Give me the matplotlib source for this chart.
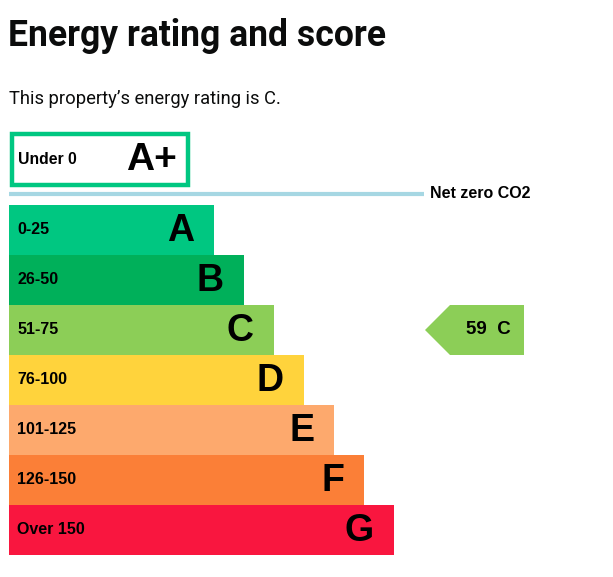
import matplotlib
matplotlib.use("Agg")
from matplotlib import pyplot as plt
from matplotlib.patches import Polygon, Rectangle

# data
bands = ["A", "B", "C", "D", "E", "F", "G"]
ranges = ["0-25", "26-50", "51-75", "76-100", "101-125", "126-150", "Over 150"]
colors = ["#00c781", "#00b05a", "#8cce57", "#ffd33c", "#fda96d", "#fb7f37", "#f9163f"]
top_band = "A+"
top_range = "Under 0"
current_score = 59
current_band = "C"

fig = plt.figure(figsize=(6.13, 5.77), dpi=100)
ax = fig.add_axes([0, 0, 1, 1])
ax.set_xlim(0, 613)
ax.set_ylim(577, 0)
ax.axis("off")

title_font = "Roboto"
chart_font = "Liberation Sans"

fig.text(8 / 613, 1 - 36 / 577, "Energy rating and score", fontsize=25.6, fontweight="bold",
         family=title_font, va="center", ha="left", color="#0b0c0c")
fig.text(9 / 613, 1 - 99 / 577, "This property\u2019s energy rating is C.", fontsize=13.2,
         family=title_font, va="center", ha="left", color="#0b0c0c")

# A+ box
ax.add_patch(Rectangle((12, 134), 176, 51, facecolor="white", edgecolor="#00c781", lw=3.2))
ax.text(18, 159, top_range, fontsize=11.3, fontweight="bold", family=chart_font, va="center")
ax.text(177, 160, top_band, fontsize=28, fontweight="bold", family=chart_font, va="center", ha="right")

# net zero line
ax.plot([9, 424], [194, 194], color="#a6d7e3", lw=3, solid_capstyle="butt")
ax.text(430, 194, "Net zero CO2", fontsize=11.5, fontweight="bold", family=chart_font, va="center")

# bands
y_pos = [230 + 50 * i for i in range(len(bands))]
widths = [205 + 30 * i for i in range(len(bands))]
ax.barh(y_pos, widths, height=50, left=9, color=colors, edgecolor="none")
for y, w, b, r in zip(y_pos, widths, bands, ranges):
    ax.text(17, y, r, fontsize=11.5, fontweight="bold", family=chart_font, va="center")
    ax.text(9 + w - 20, y + 1, b, fontsize=27, fontweight="bold", family=chart_font,
            va="center", ha="right")

# current rating arrow
i = bands.index(current_band)
yc = y_pos[i]
arrow = Polygon([(425, yc), (450, yc - 25), (524, yc - 25), (524, yc + 25), (450, yc + 25)],
                closed=True, facecolor=colors[i], edgecolor="none")
ax.add_patch(arrow)
ax.text(488, yc, f"{current_score}  {current_band}", fontsize=13.5, fontweight="bold",
        family=chart_font, va="center", ha="center")

fig.savefig("out.png", dpi=100)
